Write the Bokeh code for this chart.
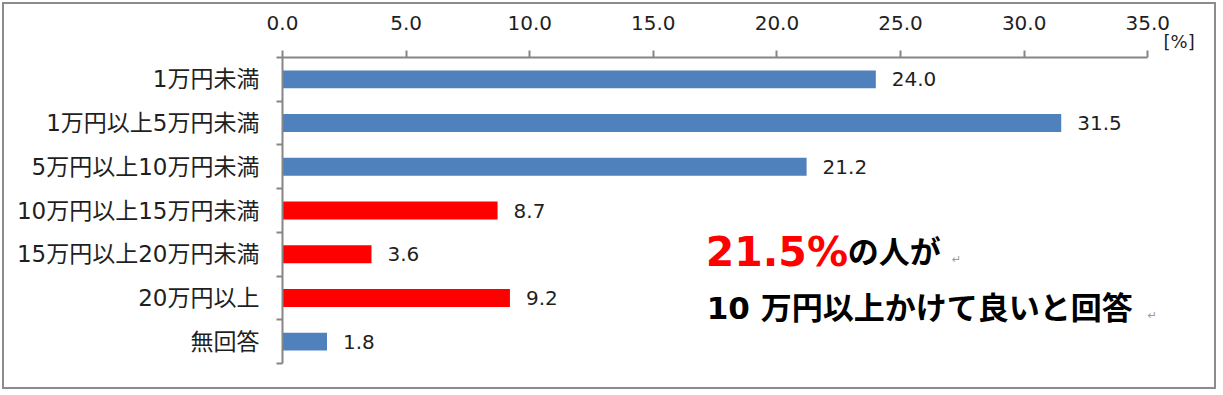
from bokeh.plotting import figure
from bokeh.models import (Range1d, LinearAxis, FixedTicker, Label, ColumnDataSource)
from bokeh.core.properties import value
from bokeh.embed import file_html
from bokeh.resources import INLINE

# ---- data ----
categories = ["1万円未満", "1万円以上5万円未満", "5万円以上10万円未満",
              "10万円以上15万円未満", "15万円以上20万円未満", "20万円以上", "無回答"]
values = [24.0, 31.5, 21.2, 8.7, 3.6, 9.2, 1.8]
x_ticks = [0, 5, 10, 15, 20, 25, 30, 35]
x_tick_labels = ["0.0", "5.0", "10.0", "15.0", "20.0", "25.0", "30.0", "35.0"]
unit_label = "[%]"
note_pct = "21.5%"
note_line1 = "の人が"
note_line2 = "10 万円以上かけて良いと回答"

# ---- styles ----
BLUE = "#4F81BD"
RED = "#FF0000"
bar_colors = [BLUE, BLUE, BLUE, RED, RED, RED, BLUE]
GRAY = "#868686"
TXT = "#1f1f1f"
FONT = "DejaVu Sans, Noto Sans CJK JP"
NUM_FONT = "DejaVu Sans"
NOTE_FONT = "DejaVu Sans, Noto Sans CJK JP"

n = len(categories)
ypos = [n - i - 0.5 for i in range(n)]          # slot centres, first on top
bounds_y = list(range(n + 1))                    # slot boundaries

p = figure(width=1214, height=387, output_backend="svg", toolbar_location=None,
           x_range=Range1d(0, 37.7), y_range=Range1d(0, n),
           x_axis_location="above", y_axis_location=None,
           min_border_left=278, min_border_right=4,
           min_border_top=53, min_border_bottom=28)
p.styles = {"border": "2px solid #8c8c8c", "margin": "2px 0 0 2px"}
p.outline_line_color = None
p.grid.visible = False
p.background_fill_color = "white"
p.border_fill_color = "white"

xa = p.xaxis[0]
xa.bounds = (0, 35)
xa.ticker = FixedTicker(ticks=x_ticks)
xa.major_label_overrides = {t: l for t, l in zip(x_ticks, x_tick_labels)}
xa.axis_line_color = GRAY
xa.axis_line_width = 2
xa.major_tick_line_color = GRAY
xa.major_tick_line_width = 2
xa.major_tick_out = 7
xa.major_tick_in = 0
xa.minor_tick_line_color = None
xa.major_label_text_font = NUM_FONT
xa.major_label_text_font_size = "20px"
xa.major_label_text_color = TXT
xa.major_label_standoff = 21

# category axis: labels at slot centres, tick marks (minor) at slot boundaries
ya = LinearAxis(ticker=FixedTicker(ticks=ypos, minor_ticks=bounds_y),
                major_label_overrides={y: c for y, c in zip(ypos, categories)},
                axis_line_color=GRAY, axis_line_width=2,
                major_tick_line_color=None,
                minor_tick_line_color=GRAY, minor_tick_line_width=2,
                minor_tick_out=6, minor_tick_in=0,
                major_tick_out=0, major_tick_in=0,
                major_label_text_font=FONT,
                major_label_text_font_size="23px",
                major_label_text_color=TXT,
                major_label_standoff=17)
p.add_layout(ya, "left")

src = ColumnDataSource(dict(y=ypos, val=values, color=bar_colors,
                            label=[f"{v:.1f}" for v in values]))
p.hbar(y="y", left=0, right="val", height=0.41, fill_color="color",
       line_color=None, source=src)
p.text(x="val", y="y", text="label", x_offset=16, source=src,
       text_align="left", text_baseline="middle",
       text_font=value(NUM_FONT), text_font_size="20px", text_color=TXT)

# unit label; kept in the bottom panel (which has spare room) and shifted up
# next to the last tick label so that it does not change the top panel height
p.add_layout(Label(x=881, y=343, x_units="screen", y_units="screen", text=unit_label,
                   text_font=NUM_FONT, text_font_size="18px", text_color=TXT,
                   text_baseline="middle"), "below")

p.add_layout(Label(x=17.12, y=2.56, text=note_pct,
                   text_font=NOTE_FONT, text_font_size="41px", text_font_style="bold",
                   text_color=RED, text_baseline="alphabetic"))
p.add_layout(Label(x=22.86, y=2.56, text=note_line1,
                   text_font=NOTE_FONT, text_font_size="31px", text_font_style="bold",
                   text_color="black", text_baseline="alphabetic"))
p.add_layout(Label(x=27.08, y=2.38, text="↵",
                   text_font="DejaVu Sans", text_font_size="11px",
                   text_color="#999999", text_baseline="alphabetic"))
p.add_layout(Label(x=17.16, y=1.28, text=note_line2,
                   text_font=NOTE_FONT, text_font_size="31px", text_font_style="bold",
                   text_color="black", text_baseline="alphabetic"))
p.add_layout(Label(x=35.0, y=1.1, text="↵",
                   text_font="DejaVu Sans", text_font_size="11px",
                   text_color="#999999", text_baseline="alphabetic"))

open("out.html", "w").write(file_html(p, INLINE))
